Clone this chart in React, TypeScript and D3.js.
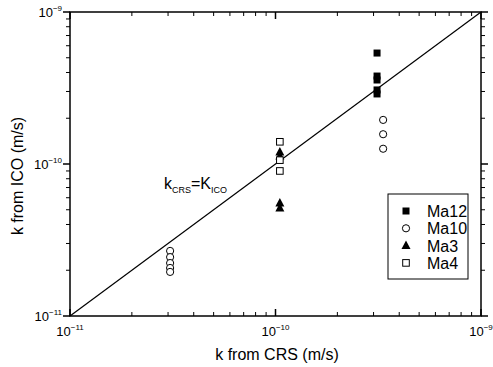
import React from "react";
import * as d3 from "d3";

const ma12X = [3.12e-10, 3.12e-10, 3.12e-10, 3.12e-10, 3.12e-10];
const ma12Y = [5.37e-10, 3.79e-10, 3.57e-10, 3.07e-10, 2.89e-10];
const ma10X = [3.34e-10, 3.34e-10, 3.34e-10, 3.07e-11, 3.07e-11, 3.07e-11, 3.07e-11, 3.07e-11];
const ma10Y = [1.95e-10, 1.57e-10, 1.26e-10, 2.68e-11, 2.44e-11, 2.23e-11, 2.07e-11, 1.95e-11];
const ma3X = [1.05e-10, 1.05e-10, 1.05e-10, 1.05e-10];
const ma3Y = [1.2e-10, 1.13e-10, 5.54e-11, 5.14e-11];
const ma4X = [1.05e-10, 1.05e-10, 1.05e-10];
const ma4Y = [1.4e-10, 1.06e-10, 9.0e-11];
const legendLabels = ["Ma12", "Ma10", "Ma3", "Ma4"];
const majorExps = [-11, -10, -9];

const W = 493, H = 367;
const L = 70, R = 481, T = 12, B = 316;
const FONT = "'Liberation Sans', Arial, sans-serif";

function Marker({ kind, x, y }: { kind: string; x: number; y: number }) {
  if (kind === "Ma12") return <rect x={x - 3.5} y={y - 3.5} width={7} height={7} fill="#000" />;
  if (kind === "Ma10") return <circle cx={x} cy={y} r={3.6} fill="#fff" stroke="#000" strokeWidth={1} />;
  if (kind === "Ma3")
    return <path d={`M${x},${y - 5}L${x + 4.5},${y + 3.5}L${x - 4.5},${y + 3.5}Z`} fill="#000" />;
  return <rect x={x - 3.3} y={y - 3.3} width={6.6} height={6.6} fill="#fff" stroke="#000" strokeWidth={1} />;
}

export default function App() {
  const x = d3.scaleLog().domain([1e-11, 1e-9]).range([L, R]);
  const y = d3.scaleLog().domain([1e-11, 1e-9]).range([B, T]);

  const minor: number[] = [];
  for (let e = -11; e < -9; e++) for (let m = 2; m <= 9; m++) minor.push(m * Math.pow(10, e));

  const series = [
    { name: "Ma12", xs: ma12X, ys: ma12Y },
    { name: "Ma10", xs: ma10X, ys: ma10Y },
    { name: "Ma3", xs: ma3X, ys: ma3Y },
    { name: "Ma4", xs: ma4X, ys: ma4Y },
  ];

  const line = d3.line<number>().x((d) => x(d)).y((d) => y(d));

  return (
    <svg width={W} height={H} style={{ display: "block", position: "absolute", left: 0, top: 0 }} fontFamily={FONT}>
      <rect width={W} height={H} fill="#fff" />
      {/* axes frame */}
      <rect x={L} y={T} width={R - L} height={B - T} fill="none" stroke="#000" strokeWidth={1.5} />
      {/* ticks */}
      {minor.map((v, i) => (
        <g key={"m" + i} stroke="#000" strokeWidth={1}>
          <line x1={x(v)} x2={x(v)} y1={B} y2={B - 4} />
          <line x1={x(v)} x2={x(v)} y1={T} y2={T + 4} />
          <line x1={L} x2={L - 4} y1={y(v)} y2={y(v)} />
          <line x1={R} x2={R + 4} y1={y(v)} y2={y(v)} />
        </g>
      ))}
      {majorExps.map((e) => {
        const v = Math.pow(10, e);
        return (
          <g key={"M" + e} stroke="#000" strokeWidth={1.5}>
            <line x1={x(v)} x2={x(v)} y1={B} y2={B - 7} />
            <line x1={x(v)} x2={x(v)} y1={T} y2={T + 7} />
            <line x1={L} x2={L - 7} y1={y(v)} y2={y(v)} />
            <line x1={R} x2={R + 7} y1={y(v)} y2={y(v)} />
          </g>
        );
      })}
      {/* tick labels */}
      {majorExps.map((e) => {
        const v = Math.pow(10, e);
        return (
          <g key={"lab" + e} fontSize={13} fill="#000">
            <text x={x(v)} y={336} textAnchor="middle">
              10<tspan dy={-6} fontSize={8}>{"\u2212" + String(-e)}</tspan>
            </text>
            <text x={62} y={y(v) + 5} textAnchor="end">
              10<tspan dy={-6} fontSize={8}>{"\u2212" + String(-e)}</tspan>
            </text>
          </g>
        );
      })}
      {/* axis titles */}
      <text x={277} y={360} textAnchor="middle" fontSize={16}>k from CRS (m/s)</text>
      <text transform="translate(23,176) rotate(-90)" textAnchor="middle" fontSize={16}>k from ICO (m/s)</text>
      {/* 1:1 line */}
      <path d={line([1e-11, 1e-9]) || ""} fill="none" stroke="#000" strokeWidth={1.2} />
      <text x={164} y={189} fontSize={16}>
        k<tspan fontSize={9} dy={4}>CRS</tspan>
        <tspan dy={-4}>=K</tspan>
        <tspan fontSize={9} dy={4}>ICO</tspan>
      </text>
      {/* points */}
      {series.map((s) =>
        s.xs.map((xv, i) => <Marker key={s.name + i} kind={s.name} x={x(xv)} y={y(s.ys[i])} />)
      )}
      {/* legend */}
      <rect x={388} y={194} width={80} height={85} fill="#fff" stroke="#000" strokeWidth={1} />
      {legendLabels.map((n, i) => (
        <g key={n}>
          <Marker kind={n} x={406} y={211 + i * 17.3} />
          <text x={427} y={211 + i * 17.3 + 6} fontSize={16}>{n}</text>
        </g>
      ))}
    </svg>
  );
}
